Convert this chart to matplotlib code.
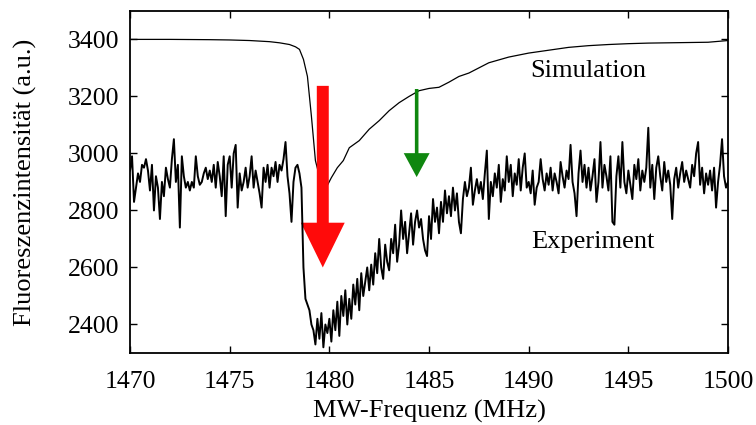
import numpy as np
import matplotlib
matplotlib.use("Agg")
import matplotlib.pyplot as plt
from matplotlib.patches import FancyArrow

# ---------------- data ----------------
exp_start, exp_step = 1470.0, 0.1
exp_values = [
    2940, 2990, 2830, 2880, 2930, 2900, 2960, 2950, 2980, 2940,   # 1470
    2870, 2960, 2800, 2920, 2880, 2770, 2900, 2850, 2950, 2910,   # 1471
    2880, 2980, 3050, 2900, 2960, 2740, 2990, 2920, 2880, 2900,   # 1472
    2870, 2900, 2880, 2990, 2920, 2890, 2900, 2930, 2950, 2910,   # 1473
    2940, 2900, 2960, 2880, 2970, 2920, 2850, 2990, 2780, 2960,   # 1474
    2990, 2880, 3000, 3030, 2810, 2930, 2870, 2900, 2950, 2880,   # 1475
    2920, 2990, 2880, 2940, 2900, 2860, 2810, 2950, 2900, 2960,   # 1476
    2880, 2950, 2920, 2970, 2900, 2960, 2940, 2980, 3040, 2920,   # 1477
    2860, 2760, 2900, 2950, 2960, 2930, 2880, 2600, 2490, 2470,   # 1478
    2450, 2400, 2380, 2330, 2420, 2350, 2440, 2320, 2400, 2370,   # 1479
    2420, 2340, 2450, 2380, 2480, 2360, 2500, 2430, 2520, 2400,   # 1480
    2490, 2420, 2540, 2470, 2560, 2450, 2580, 2500, 2550, 2600,   # 1481
    2520, 2610, 2540, 2650, 2580, 2700, 2600, 2560, 2680, 2620,   # 1482
    2590, 2700, 2650, 2750, 2620, 2680, 2800, 2700, 2760, 2650,   # 1483
    2720, 2790, 2680, 2760, 2800, 2740, 2770, 2700, 2660, 2640,   # 1484
    2780, 2700, 2840, 2760, 2810, 2720, 2830, 2760, 2870, 2790,   # 1485
    2850, 2780, 2880, 2800, 2860, 2760, 2720, 2840, 2900, 2850,   # 1486
    2880, 2950, 2820, 2870, 2910, 2860, 2900, 2840, 2930, 3010,   # 1487
    2770, 2900, 2850, 2930, 2880, 2960, 2830, 2910, 2870, 2990,   # 1488
    2900, 2960, 2850, 2930, 2890, 2980, 2870, 2950, 3000, 2880,   # 1489
    2900, 2860, 2940, 2820, 2880, 2900, 2980, 2910, 2870, 2930,   # 1490
    2890, 2950, 2870, 2930, 2900, 2860, 2970, 2920, 2880, 2940,   # 1491
    2910, 3030, 2900, 2860, 2780, 2930, 3010, 2900, 2960, 2880,   # 1492
    2950, 2870, 2920, 2980, 2830, 2900, 3040, 2880, 2960, 2920,   # 1493
    2870, 2990, 2760, 2750, 2920, 2990, 2880, 3040, 2900, 2860,   # 1494
    2940, 2890, 2840, 2960, 2910, 2980, 2870, 2940, 2900, 2950,   # 1495
    3090, 2880, 2960, 2840, 2950, 2990, 2920, 2870, 2970, 2900,   # 1496
    2940, 2890, 2770, 2910, 2950, 2880, 2930, 2970, 2900, 2940,   # 1497
    2910, 2880, 2960, 2920, 3000, 3040, 2890, 2950, 2860, 2930,   # 1498
    2890, 2940, 2870, 2950, 2810, 2900, 2960, 3050, 2920, 2880,   # 1499
    2900,                                                         # 1500
]
exp_freq = exp_start + exp_step * np.arange(len(exp_values))

sim_freq = [1470, 1472, 1474, 1475, 1476, 1476.5, 1477, 1477.5, 1478, 1478.3,
            1478.5, 1478.7, 1478.9, 1479.1, 1479.3, 1479.5, 1479.7, 1479.9,
            1480.1, 1480.4, 1480.7, 1481.0, 1481.5, 1482.0, 1482.5, 1483.0,
            1483.5, 1484.0, 1484.5, 1485.0, 1485.5, 1486.0, 1486.5, 1487.0,
            1487.5, 1488.0, 1489, 1490, 1491, 1492, 1493, 1494, 1495, 1496,
            1497, 1498, 1499, 1500]
sim_values = [3400, 3400, 3399, 3398, 3396, 3394, 3392, 3388, 3382, 3374,
              3365, 3330, 3270, 3130, 2975, 2920, 2900, 2888,
              2915, 2950, 2975, 3020, 3045, 3085, 3115, 3150,
              3178, 3200, 3220, 3228, 3232, 3250, 3270, 3282,
              3300, 3318, 3338, 3352, 3362, 3372, 3378, 3382, 3385, 3387,
              3388, 3389, 3390, 3396]

x_ticks = [1470, 1475, 1480, 1485, 1490, 1495, 1500]
y_ticks = [2400, 2600, 2800, 3000, 3200, 3400]

# arrows: (x, y_tail, y_tip)
red_arrow = (1479.67, 3237, 2600)
green_arrow = (1484.38, 3226, 2917)

# ---------------- figure ----------------
plt.rcParams['font.family'] = ['Liberation Serif', 'DejaVu Serif']
fig = plt.figure(figsize=(7.56, 4.25), dpi=100)
ax = fig.add_axes([0.172, 0.1694, 0.791, 0.805])

ax.plot(sim_freq, sim_values, color='black', lw=0.9, zorder=2)
ax.plot(exp_freq, exp_values, color='black', lw=1.4, zorder=4)

rx, ry0, ry1 = red_arrow
ax.add_patch(FancyArrow(rx, ry0, 0, ry1 - ry0, width=0.60, head_width=2.2,
                        head_length=157, length_includes_head=True,
                        color='#ff0a0a', lw=0, zorder=3))
gx, gy0, gy1 = green_arrow
ax.add_patch(FancyArrow(gx, gy0, 0, gy1 - gy0, width=0.18, head_width=1.3,
                        head_length=84, length_includes_head=True,
                        color='#0f870f', lw=0, zorder=3))

ax.text(1493.0, 3290, 'Simulation', fontsize=19, ha='center', va='center')
ax.text(1493.2, 2690, 'Experiment', fontsize=19, ha='center', va='center')

ax.set_xlim(1470, 1500)
ax.set_ylim(2300, 3500)
ax.set_xticks(x_ticks)
ax.set_yticks(y_ticks)
ax.tick_params(direction='in', length=5, width=1, top=True, right=True,
               labelsize=18.5)
ax.tick_params(axis='x', pad=13)
ax.tick_params(axis='y', pad=8)
for s in ax.spines.values():
    s.set_linewidth(1.3)

ax.set_xlabel('MW-Frequenz (MHz)', fontsize=19, labelpad=5)
ax.set_ylabel('Fluoreszenzintensität (a.u.)', fontsize=19, labelpad=22)

fig.savefig('out.png', dpi=100)
